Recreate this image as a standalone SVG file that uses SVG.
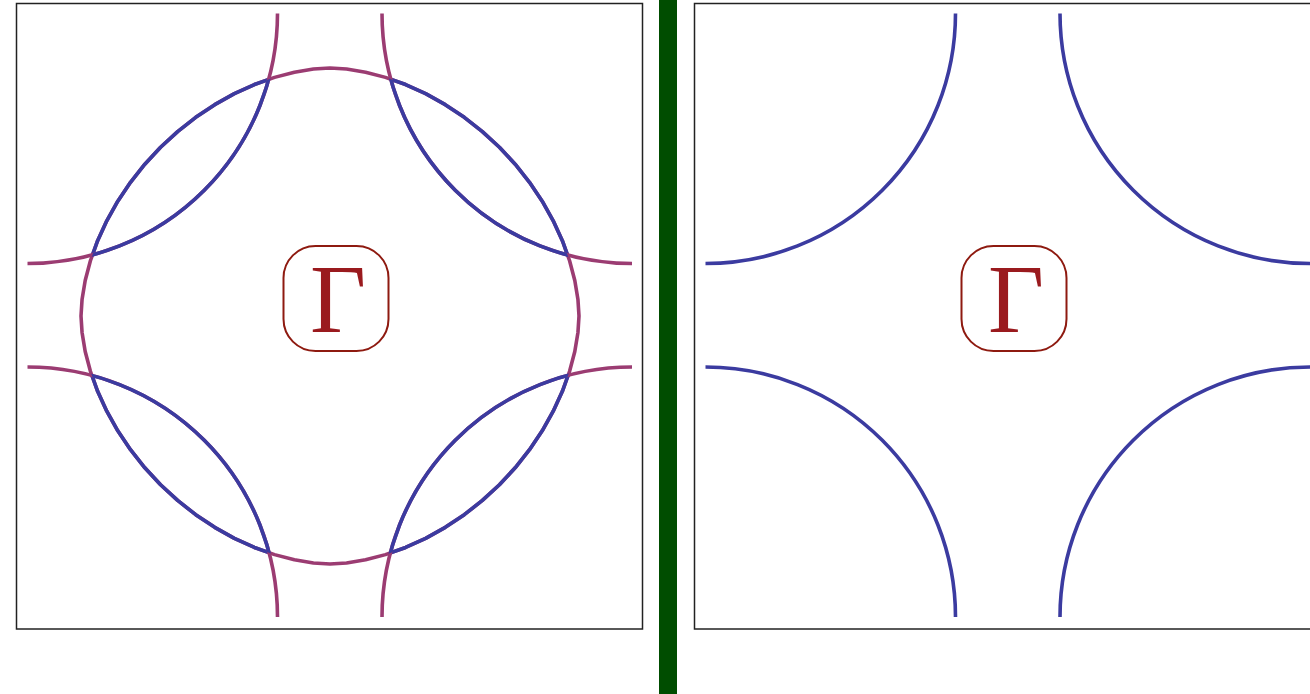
<svg xmlns="http://www.w3.org/2000/svg" width="1310" height="694" viewBox="0 0 1310 694">
<style>
.frame{fill:none;stroke:#222;stroke-width:1.5}
.blue{fill:none;stroke:#3b3ba0;stroke-width:3.6;stroke-linejoin:round}
.purple{fill:none;stroke:#9b3c72;stroke-width:3.6;stroke-linejoin:round}
.gbox{fill:#fff;stroke:#8e1a10;stroke-width:2}
.gtext{font-family:"Liberation Serif","DejaVu Serif",serif;font-size:97px;fill:#9a1a1e}
</style>
<defs>
<path id="fs" transform="translate(330,316)" d="M249,0 L247.95,-16.48 L244.8,-35.45 L239.59,-55.24 L232.37,-75.29 L223.22,-95.24 L212.22,-114.81 L199.5,-133.73 L185.18,-151.77 L169.42,-168.74 L152.39,-184.44 L134.27,-198.7 L115.27,-211.37 L95.63,-222.32 L75.59,-231.44 L55.46,-238.63 L35.59,-243.82 L16.55,-246.95 L0,-248 L-16.55,-246.95 L-35.59,-243.82 L-55.46,-238.63 L-75.59,-231.44 L-95.63,-222.32 L-115.27,-211.37 L-134.27,-198.7 L-152.39,-184.44 L-169.42,-168.74 L-185.18,-151.77 L-199.5,-133.73 L-212.22,-114.81 L-223.22,-95.24 L-232.37,-75.29 L-239.59,-55.24 L-244.8,-35.45 L-247.95,-16.48 L-249,0 L-247.95,16.48 L-244.8,35.45 L-239.59,55.24 L-232.37,75.29 L-223.22,95.24 L-212.22,114.81 L-199.5,133.73 L-185.18,151.77 L-169.42,168.74 L-152.39,184.44 L-134.27,198.7 L-115.27,211.37 L-95.63,222.32 L-75.59,231.44 L-55.46,238.63 L-35.59,243.82 L-16.55,246.95 L0,248 L16.55,246.95 L35.59,243.82 L55.46,238.63 L75.59,231.44 L95.63,222.32 L115.27,211.37 L134.27,198.7 L152.39,184.44 L169.42,168.74 L185.18,151.77 L199.5,133.73 L212.22,114.81 L223.22,95.24 L232.37,75.29 L239.59,55.24 L244.8,35.45 L247.95,16.48 Z"/>
<clipPath id="inner"><rect x="27.5" y="13.5" width="604.5" height="603.5"/></clipPath>
<clipPath id="cornersL">
<circle cx="27.5" cy="13.5" r="250"/><circle cx="632" cy="13.5" r="250"/>
<circle cx="27.5" cy="617" r="250"/><circle cx="632" cy="617" r="250"/>
</clipPath>
<clipPath id="discL"><use href="#fs"/></clipPath>
<clipPath id="innerR"><rect x="705.5" y="13.5" width="604.5" height="603.5"/></clipPath>
</defs>
<rect x="0" y="0" width="1310" height="694" fill="#fff"/>
<g id="frame-left"><rect class="frame" x="16.5" y="3.5" width="626" height="625.5"/></g>
<g id="frame-right"><rect class="frame" x="694.5" y="3.5" width="626" height="625.5"/></g>
<g id="divider"><rect x="659" y="0" width="18" height="694" fill="#004d00"/></g>
<g id="connectors">
<g id="left-curves">
<use href="#fs" class="purple"/>
<g clip-path="url(#cornersL)"><use href="#fs" class="blue"/></g>
<g clip-path="url(#inner)">
<g class="purple">
<circle cx="27.5" cy="13.5" r="250"/><circle cx="632" cy="13.5" r="250"/>
<circle cx="27.5" cy="617" r="250"/><circle cx="632" cy="617" r="250"/>
</g>
<g class="blue" clip-path="url(#discL)">
<circle cx="27.5" cy="13.5" r="250"/><circle cx="632" cy="13.5" r="250"/>
<circle cx="27.5" cy="617" r="250"/><circle cx="632" cy="617" r="250"/>
</g>
</g>
</g>
<g id="right-curves" clip-path="url(#innerR)">
<g class="blue">
<circle cx="705.5" cy="13.5" r="250"/><circle cx="1310" cy="13.5" r="250"/>
<circle cx="705.5" cy="617" r="250"/><circle cx="1310" cy="617" r="250"/>
</g>
</g>
</g>
<g id="gamma-left">
<rect class="gbox" x="283.5" y="246" width="105" height="105" rx="32"/>
<text class="gtext" x="310" y="332">Γ</text>
</g>
<g id="gamma-right">
<rect class="gbox" x="961.5" y="246" width="105" height="105" rx="32"/>
<text class="gtext" x="988" y="332">Γ</text>
</g>
</svg>
